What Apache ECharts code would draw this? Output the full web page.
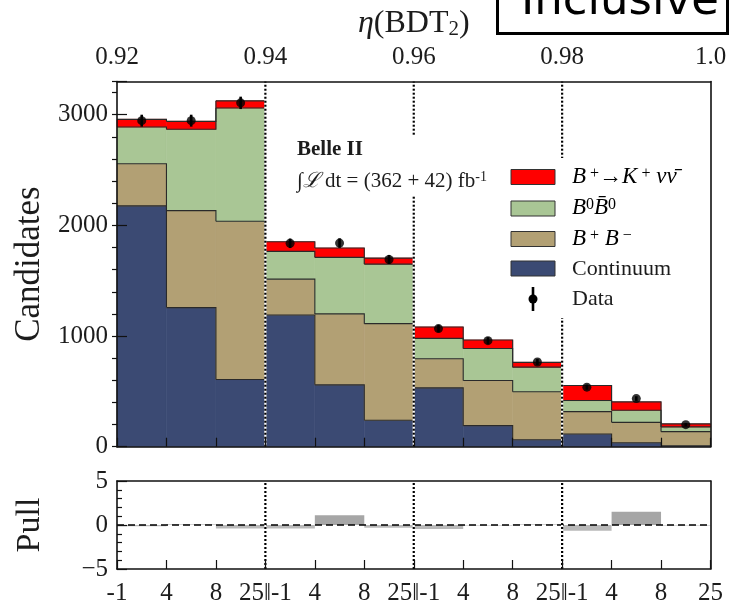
<!DOCTYPE html>
<html>
<head>
<meta charset="utf-8">
<script src="https://cdn.jsdelivr.net/npm/echarts@6/dist/echarts.min.js"></script>
<style>
  html, body { margin: 0; padding: 0; background: #fff; }
  #chart { width: 740px; height: 606px; }
</style>
</head>
<body>
<div id="chart"></div>
<script>
// eta(BDT2) region boundaries (top axis) and q^2 bin edges (bottom axis)
const etaTicks = [0.92, 0.94, 0.96, 0.98, 1.0];
const binsPerRegion = 3;
const q2EdgeLabels = ['-1', '4', '8', '25‖-1', '4', '8', '25‖-1', '4', '8', '25‖-1', '4', '8', '25'];

// Fitted template yields per bin (stacked bottom to top)
const continuum = [2176, 1257, 607, 1190, 559, 239, 532, 190, 63, 115, 36, 8];
const chargedBB = [381, 876, 1430, 324, 641, 873, 263, 408, 433, 202, 184, 128];
const neutralBB = [332, 735, 1024, 251, 511, 538, 184, 290, 223, 100, 109, 43];
const signal    = [69, 72, 64, 87, 84, 54, 103, 76, 43, 136, 76, 27];

// Observed candidates and their uncertainties
const dataCounts = [2946, 2946, 3107, 1838, 1840, 1692, 1067, 958, 765, 538, 435, 199];
const dataErrors = [54, 54, 56, 43, 43, 41, 33, 31, 28, 23, 21, 14];

// Pull of data vs. fit per bin
const pulls = [-0.15, 0.05, -0.4, -0.4, 1.1, -0.3, -0.45, -0.05, 0.05, -0.65, 1.5, -0.05];

const nBins = continuum.length;
const yMaxMain = 3300;
const regionEdges = etaTicks.slice(1, -1).map((_, k) => (k + 1) * binsPerRegion);

const serif = 'Liberation Serif';
const ink = '#1c1c1c';
const colors = {
  signal: '#ff0000',
  neutral: '#a9c695',
  charged: '#b2a074',
  continuum: '#3b4a73'
};

// stack the templates: each layer sits on the cumulative sum of those below
const layers = [
  { name: 'Continuum', values: continuum, color: colors.continuum },
  { name: 'B+B-', values: chargedBB, color: colors.charged },
  { name: 'B0B0bar', values: neutralBB, color: colors.neutral },
  { name: 'B+ -> K+ nu nubar', values: signal, color: colors.signal }
];
const stackBase = new Array(nBins).fill(0);
layers.forEach(layer => {
  layer.bottom = stackBase.slice();
  layer.top = layer.values.map((v, i) => stackBase[i] + v);
  layer.top.forEach((t, i) => { stackBase[i] = t; });
});

function histFill(layer) {
  return {
    name: layer.name,
    type: 'custom',
    xAxisIndex: 0,
    yAxisIndex: 0,
    z: 3,
    silent: true,
    data: layer.values.map((v, i) => [i, layer.bottom[i], layer.top[i]]),
    renderItem: function (params, api) {
      const i = api.value(0);
      const a = api.coord([i, api.value(1)]);
      const b = api.coord([i + 1, api.value(2)]);
      return {
        type: 'rect',
        shape: { x: a[0], y: b[1], width: b[0] - a[0], height: a[1] - b[1] },
        style: { fill: layer.color, stroke: layer.color, lineWidth: 0.6 }
      };
    }
  };
}

// step outline along the top of each template layer
function histOutline(layer) {
  return {
    type: 'custom',
    xAxisIndex: 0,
    yAxisIndex: 0,
    z: 4,
    silent: true,
    data: layer.top.map((t, i) => [i, t, i + 1 < nBins ? layer.top[i + 1] : t]),
    renderItem: function (params, api) {
      const i = api.value(0);
      const p0 = api.coord([i, api.value(1)]);
      const p1 = api.coord([i + 1, api.value(1)]);
      const p2 = api.coord([i + 1, api.value(2)]);
      return {
        type: 'polyline',
        shape: { points: [p0, p1, p2] },
        style: { stroke: '#2a2a2a', lineWidth: 1.1, fill: null }
      };
    }
  };
}

function separatorSeries(xIdx, yIdx, yLo, yHi) {
  return {
    type: 'custom',
    xAxisIndex: xIdx,
    yAxisIndex: yIdx,
    data: regionEdges.map(e => [e]),
    z: 8,
    silent: true,
    renderItem: function (params, api) {
      const x = api.value(0);
      const a = api.coord([x, yLo]);
      const b = api.coord([x, yHi]);
      return {
        type: 'group',
        children: [
          { type: 'line', shape: { x1: a[0], y1: a[1], x2: b[0], y2: b[1] },
            style: { stroke: '#ffffff', lineWidth: 2.2 } },
          { type: 'line', shape: { x1: a[0], y1: a[1], x2: b[0], y2: b[1] },
            style: { stroke: '#000000', lineWidth: 2.2, lineDash: [2, 2] } }
        ]
      };
    }
  };
}

const axisLineStyle = { color: '#111', width: 1.6 };
const tickStyle = { color: '#111', width: 1.2 };

const option = {
  animation: false,
  backgroundColor: '#ffffff',
  textStyle: { fontFamily: serif, color: ink },
  grid: [
    { left: 117, top: 81.5, width: 593.5, height: 365.2 },
    { left: 117, top: 481, width: 593.5, height: 91.5 }
  ],
  xAxis: [
    { // bin axis of the main panel
      gridIndex: 0, type: 'value', min: 0, max: nBins, interval: 1, position: 'bottom', z: 10,
      axisLine: { show: true, onZero: false, lineStyle: axisLineStyle },
      axisTick: { show: true, inside: true, length: 9, lineStyle: tickStyle },
      axisLabel: { show: false }, splitLine: { show: false }
    },
    { // eta(BDT2) axis on top
      gridIndex: 0, type: 'value', min: etaTicks[0], max: etaTicks[etaTicks.length - 1], interval: 0.02,
      position: 'top', z: 10,
      axisLine: { show: true, onZero: false, lineStyle: axisLineStyle },
      axisTick: { show: false },
      axisLabel: {
        show: true, fontFamily: serif, fontSize: 25, color: ink, margin: 12,
        showMinLabel: true, showMaxLabel: true,
        formatter: v => (Math.abs(v - 1) < 1e-9 ? '1.0' : v.toFixed(2))
      },
      splitLine: { show: false },
      name: '{g|η}{n|(BDT}{s|2}{n|)}',
      nameLocation: 'middle',
      nameGap: 41,
      nameTextStyle: {
        fontFamily: serif, color: ink,
        rich: {
          g: { fontFamily: serif, fontStyle: 'italic', fontSize: 32, color: ink },
          n: { fontFamily: serif, fontSize: 32, color: ink },
          s: { fontFamily: serif, fontSize: 21, color: ink, verticalAlign: 'bottom', padding: [12, 0, 0, 0] }
        }
      }
    },
    { // q^2 edges under the pull panel
      gridIndex: 1, type: 'value', min: 0, max: nBins, interval: 1, position: 'bottom', z: 10,
      axisLine: { show: true, onZero: false, lineStyle: axisLineStyle },
      axisTick: { show: true, inside: true, length: 9, lineStyle: tickStyle },
      axisLabel: {
        show: true, fontFamily: serif, fontSize: 25, color: ink, margin: 12,
        showMinLabel: true, showMaxLabel: true,
        formatter: v => q2EdgeLabels[Math.round(v)]
      },
      splitLine: { show: false }
    },
    { // top frame of the pull panel
      gridIndex: 1, type: 'value', min: 0, max: nBins, position: 'top', z: 10,
      axisLine: { show: true, onZero: false, lineStyle: axisLineStyle },
      axisTick: { show: false }, axisLabel: { show: false }, splitLine: { show: false }
    }
  ],
  yAxis: [
    { // candidates, major ticks and labels
      gridIndex: 0, type: 'value', min: 0, max: yMaxMain, interval: 1000, z: 10,
      axisLine: { show: true, onZero: false, lineStyle: axisLineStyle },
      axisTick: { show: true, inside: true, length: 10, lineStyle: tickStyle },
      axisLabel: {
        fontFamily: serif, fontSize: 25, color: ink, margin: 9,
        formatter: v => (v % 1000 === 0 ? String(v) : '')
      },
      splitLine: { show: false },
      name: 'Candidates', nameLocation: 'middle', nameGap: 68, nameRotate: 90,
      nameTextStyle: { fontFamily: serif, fontSize: 35, color: ink }
    },
    { // candidates, minor ticks
      gridIndex: 0, type: 'value', min: 0, max: yMaxMain, interval: 200, z: 10,
      axisLine: { show: false },
      axisTick: { show: true, inside: true, length: 5, lineStyle: tickStyle },
      axisLabel: { show: false }, splitLine: { show: false }
    },
    { // right frame of the main panel
      gridIndex: 0, type: 'value', min: 0, max: yMaxMain, position: 'right', z: 10,
      axisLine: { show: true, onZero: false, lineStyle: axisLineStyle },
      axisTick: { show: false }, axisLabel: { show: false }, splitLine: { show: false }
    },
    { // pull axis
      gridIndex: 1, type: 'value', min: -5, max: 5, interval: 5, z: 10,
      axisLine: { show: true, onZero: false, lineStyle: axisLineStyle },
      axisTick: { show: true, inside: true, length: 10, lineStyle: tickStyle },
      minorTick: { show: true, splitNumber: 5, length: 5, lineStyle: tickStyle },
      axisLabel: {
        fontFamily: serif, fontSize: 25, color: ink, margin: 9,
        formatter: v => (v < 0 ? '\u2212' + (-v) : String(v))
      },
      splitLine: { show: false },
      name: 'Pull', nameLocation: 'middle', nameGap: 70, nameRotate: 90,
      nameTextStyle: { fontFamily: serif, fontSize: 34, color: ink }
    },
    { // right frame of the pull panel
      gridIndex: 1, type: 'value', min: -5, max: 5, position: 'right', z: 10,
      axisLine: { show: true, onZero: false, lineStyle: axisLineStyle },
      axisTick: { show: false }, axisLabel: { show: false }, splitLine: { show: false }
    }
  ],
  series: [
    ...layers.map(histFill),
    ...layers.map(histOutline),
    separatorSeries(0, 0, 0, yMaxMain),
    { // data error bars
      type: 'custom', name: 'Data errors', xAxisIndex: 0, yAxisIndex: 0, z: 9, silent: true,
      data: dataCounts.map((v, i) => [i + 0.5, v, dataErrors[i]]),
      renderItem: function (params, api) {
        const x = api.value(0), y = api.value(1), e = api.value(2);
        const lo = api.coord([x, y - e]);
        const hi = api.coord([x, y + e]);
        return { type: 'line', shape: { x1: lo[0], y1: lo[1], x2: hi[0], y2: hi[1] },
                 style: { stroke: '#000', lineWidth: 2.6 } };
      }
    },
    { // data points
      type: 'scatter', name: 'Data', xAxisIndex: 0, yAxisIndex: 0, z: 9, silent: true,
      symbol: 'circle', symbolSize: 9,
      itemStyle: { color: '#000' },
      data: dataCounts.map((v, i) => [i + 0.5, v])
    },
    { // pull bars
      type: 'custom', name: 'Pull', xAxisIndex: 2, yAxisIndex: 3, z: 4, silent: true,
      data: pulls.map((p, i) => [i, p]),
      renderItem: function (params, api) {
        const i = api.value(0), p = api.value(1);
        const a = api.coord([i, 0]);
        const b = api.coord([i + 1, p]);
        return {
          type: 'rect',
          shape: { x: a[0], y: Math.min(a[1], b[1]), width: b[0] - a[0], height: Math.abs(b[1] - a[1]) },
          style: { fill: p >= 0 ? '#a6a6a6' : '#b9b9b9' }
        };
      },
      markLine: {
        silent: true, symbol: 'none', label: { show: false },
        lineStyle: { color: '#000', width: 1.6, type: [7, 4] },
        data: [{ yAxis: 0 }]
      }
    },
    separatorSeries(2, 3, -5, 5)
  ],
  graphic: [
    // experiment label with luminosity
    { type: 'rect', z: 30, shape: { x: 289, y: 136, width: 214, height: 60 }, style: { fill: '#fff' } },
    { type: 'text', z: 31, x: 297, y: 150,
      style: { text: 'Belle II', fontFamily: serif, fontWeight: 'bold', fontSize: 21, fill: ink, verticalAlign: 'middle' } },
    { type: 'text', z: 31, x: 297, y: 181,
      style: {
        text: '{n|∫}{i|ℒ}{n| dt = (362 + 42) fb}{s|-1}',
        verticalAlign: 'middle', fill: ink,
        rich: {
          n: { fontFamily: serif, fontSize: 21, color: ink },
          i: { fontFamily: serif, fontStyle: 'italic', fontSize: 21, color: ink },
          s: { fontFamily: serif, fontSize: 14, color: ink, verticalAlign: 'top' }
        }
      } },
    // legend
    { type: 'rect', z: 30, shape: { x: 503, y: 158, width: 204, height: 160 }, style: { fill: '#fff' } },
    { type: 'rect', z: 31, shape: { x: 511, y: 169.5, width: 44, height: 15 }, style: { fill: colors.signal, stroke: '#333', lineWidth: 1 } },
    { type: 'rect', z: 31, shape: { x: 511, y: 201, width: 44, height: 15 }, style: { fill: colors.neutral, stroke: '#333', lineWidth: 1 } },
    { type: 'rect', z: 31, shape: { x: 511, y: 231.5, width: 44, height: 15 }, style: { fill: colors.charged, stroke: '#333', lineWidth: 1 } },
    { type: 'rect', z: 31, shape: { x: 511, y: 261, width: 44, height: 15 }, style: { fill: colors.continuum, stroke: '#333', lineWidth: 1 } },
    { type: 'line', z: 31, shape: { x1: 533, y1: 287, x2: 533, y2: 311 }, style: { stroke: '#000', lineWidth: 2.6 } },
    { type: 'circle', z: 32, shape: { cx: 533, cy: 299, r: 4.5 }, style: { fill: '#000' } },
    { type: 'text', z: 31, x: 572, y: 177,
      style: {
        text: '{i|B}{s| +}{n|→}{i|K}{s| +}{i| νν\u0304}', verticalAlign: 'middle',
        rich: {
          i: { fontFamily: serif, fontStyle: 'italic', fontSize: 23, color: ink },
          n: { fontFamily: serif, fontSize: 23, color: ink },
          s: { fontFamily: serif, fontSize: 16, color: ink, verticalAlign: 'top' }
        }
      } },
    { type: 'text', z: 31, x: 572, y: 208,
      style: {
        text: '{i|B}{s|0}{i|B\u0304}{s|0}', verticalAlign: 'middle',
        rich: {
          i: { fontFamily: serif, fontStyle: 'italic', fontSize: 23, color: ink },
          s: { fontFamily: serif, fontSize: 16, color: ink, verticalAlign: 'top' }
        }
      } },
    { type: 'text', z: 31, x: 572, y: 239,
      style: {
        text: '{i|B}{s| +}{i| B}{s| \u2212}', verticalAlign: 'middle',
        rich: {
          i: { fontFamily: serif, fontStyle: 'italic', fontSize: 23, color: ink },
          s: { fontFamily: serif, fontSize: 16, color: ink, verticalAlign: 'top' }
        }
      } },
    { type: 'text', z: 31, x: 572, y: 269,
      style: { text: 'Continuum', fontFamily: serif, fontSize: 22, fill: ink, verticalAlign: 'middle' } },
    { type: 'text', z: 31, x: 572, y: 299,
      style: { text: 'Data', fontFamily: serif, fontSize: 22, fill: ink, verticalAlign: 'middle' } },
    // selection tag in the upper right corner
    { type: 'rect', z: 30, shape: { x: 497.5, y: -40, width: 230, height: 73.5 }, style: { fill: '#fff', stroke: '#000', lineWidth: 3 } },
    { type: 'text', z: 31, x: 521, y: 25,
      style: { text: 'Inclusive', fontFamily: 'DejaVu Sans', fontSize: 45, fill: '#000', verticalAlign: 'bottom' } }
  ]
};

const chart = echarts.init(document.getElementById('chart'), null, { renderer: 'canvas' });
chart.setOption(option);
</script>
</body>
</html>
